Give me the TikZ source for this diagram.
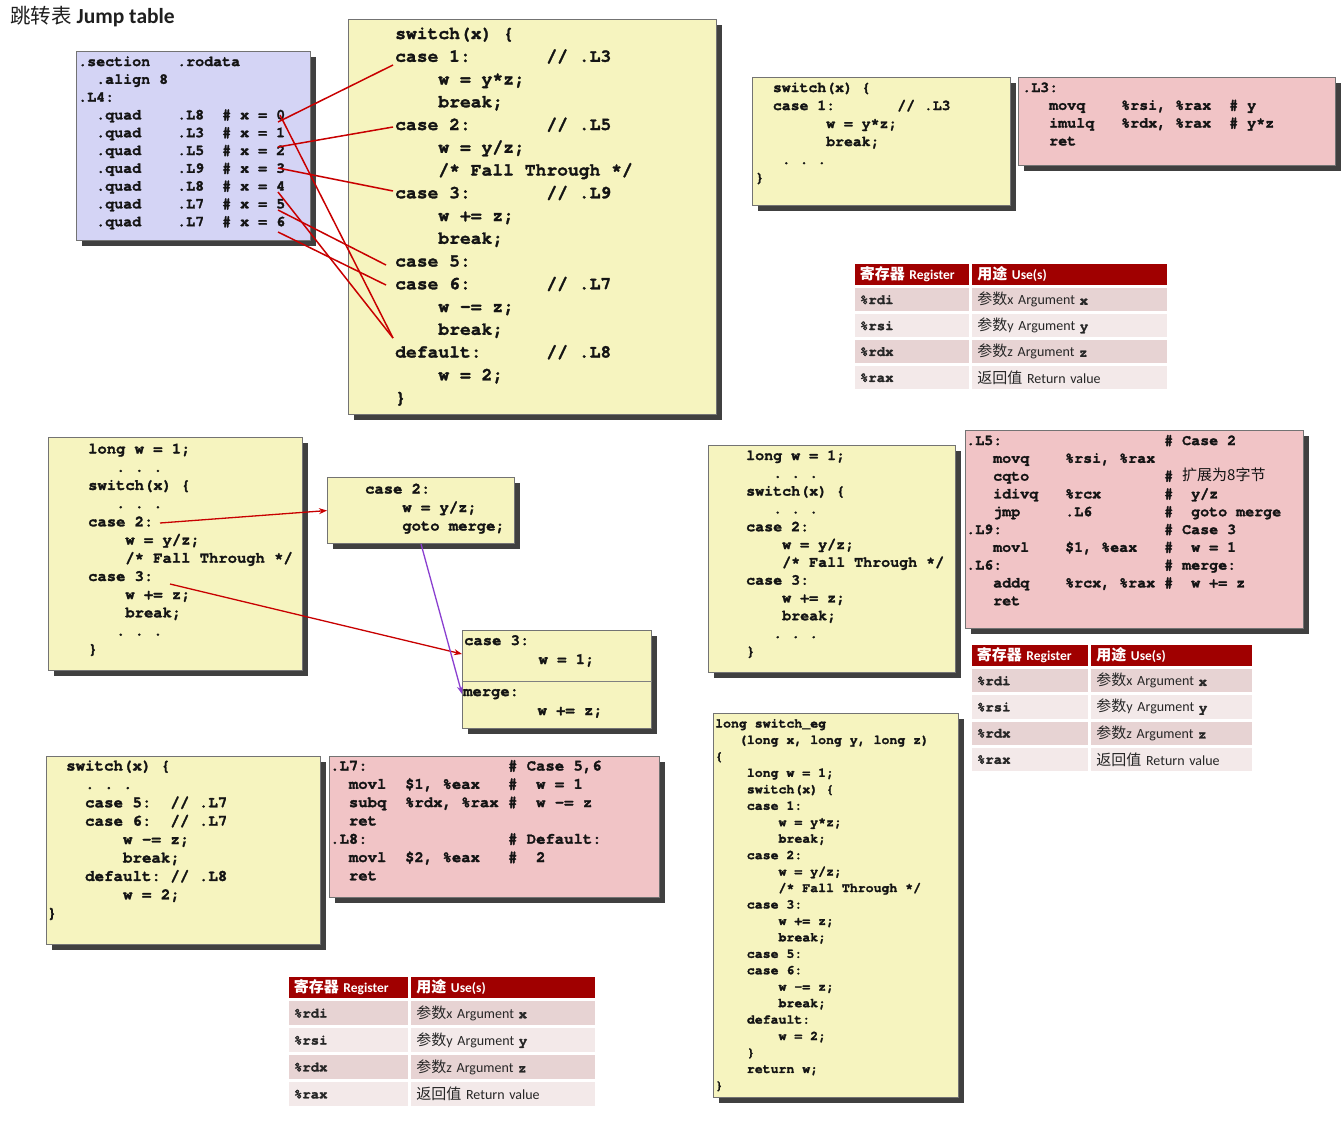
\documentclass[tikz,border=0pt]{standalone}
\usepackage{fontspec}
\setmainfont{Carlito}
\setmonofont{texgyrecursor-regular.otf}[BoldFont=texgyrecursor-bold.otf, BoldFeatures={FakeBold=1.6}]
\newfontfamily\cjk{Noto Sans CJK SC}
\usetikzlibrary{shadows,matrix,arrows.meta}
\definecolor{boxyellow}{HTML}{F6F4BF}
\definecolor{boxpink}{HTML}{F1C4C6}
\definecolor{boxlav}{HTML}{D4D4F5}
\definecolor{hdrred}{HTML}{A00000}
\definecolor{rowa}{HTML}{E7D3D3}
\definecolor{rowb}{HTML}{F3E9E9}
\definecolor{jumpred}{HTML}{C80000}
\definecolor{gotopurple}{HTML}{8A3FD0}
% code listing: one tabular, baseline on its first line
\newcommand\lines[1]{\begin{tabular}[t]{@{}l@{}}#1\end{tabular}}
\newcommand\zh[1]{{\cjk\mdseries\fontsize{15}{16}\selectfont #1}}
\newcommand\zhb[1]{{\cjk\bfseries\fontsize{15}{16}\selectfont #1}}
\newcommand\tti[1]{{\ttfamily\bfseries #1}}
\begin{document}
\begin{tikzpicture}[x=1pt,y=-1pt,
  panel/.style={draw=black!55, line width=1.1pt, inner sep=0pt, anchor=north west,
    drop shadow={shadow xshift=5pt, shadow yshift=-5pt, fill=black, opacity=0.75}},
  cpanel/.style={panel, fill=boxyellow},
  apanel/.style={panel, fill=boxpink},
  tpanel/.style={panel, fill=boxlav},
  code/.style 2 args={inner sep=0pt, anchor=base west, text=black!92,
    font=\ttfamily\bfseries\fontsize{#1}{#2}\selectfont},
  tcell/.style={draw=white, line width=1.5pt, inner xsep=6pt, inner ysep=0pt,
    align=left, anchor=center, text=black!85, font=\fontsize{14}{16}\selectfont},
  thead/.style={fill=hdrred, text=white, font=\bfseries\fontsize{13.5}{16}\selectfont},
  regtab/.style 2 args={matrix of nodes, anchor=north west, inner sep=0pt,
    row sep=0pt, column sep=0pt, nodes={tcell, minimum height=#2},
    row 1/.style={nodes={thead, minimum height=#1}},
    row 2/.style={nodes={fill=rowa}}, row 3/.style={nodes={fill=rowb}},
    row 4/.style={nodes={fill=rowa}}, row 5/.style={nodes={fill=rowb}}},
  jump/.style={draw=jumpred, line width=1.5pt},
  goto/.style={draw=jumpred, line width=1.3pt, -{Stealth[length=8pt,width=6pt]}},
  merge/.style={draw=gotopurple, line width=1.3pt, -{Stealth[length=8pt,width=6pt]}}
]
\useasboundingbox (0,0) rectangle (1344,1122);
\fill[white] (0,0) rectangle (1344,1122);

% heading
\node[anchor=west, inner sep=0pt, text=black!88] (title) at (10,17)
  {{\cjk\fontsize{20.5}{24}\selectfont 跳转表}\hspace{5pt}{\bfseries\fontsize{21.5}{24}\selectfont Jump table}};

% ---------- panels ----------
\node[tpanel, minimum width=234pt, minimum height=189pt] (jt) at (76,51) {};
\node[cpanel, minimum width=368pt, minimum height=395pt] (sw) at (348,19) {};
\node[cpanel, minimum width=258pt, minimum height=128pt] (c1c) at (752,77) {};
\node[apanel, minimum width=317pt, minimum height=88pt] (c1a) at (1018,77) {};
\node[cpanel, minimum width=254pt, minimum height=233pt] (ftc) at (48,437) {};
\node[cpanel, minimum width=187pt, minimum height=66pt] (g2) at (327,477) {};
\node[cpanel, minimum width=189pt, minimum height=98pt] (g3) at (462,630) {};
\node[cpanel, minimum width=247pt, minimum height=227pt] (ftc2) at (708,445) {};
\node[apanel, minimum width=338pt, minimum height=198pt] (fta) at (965,430) {};
\node[cpanel, minimum width=274pt, minimum height=188pt] (dc) at (46,756) {};
\node[apanel, minimum width=330pt, minimum height=141pt] (da) at (329,756) {};
\node[cpanel, minimum width=245pt, minimum height=384pt] (full) at (713,713) {};

\draw[black!50, line width=0.8pt] ([shift={(0,51)}]g3.north west) -- ([shift={(0,51)}]g3.north east);

% ---------- listings ----------
\node[code={15}{17.8}] (jttext) at ([shift={(2,15)}]jt.north west) {\lines{%
.section~~~.rodata\\
~~.align 8\\
.L4:\\
~~.quad~~~~.L8~~\# x = 0\\
~~.quad~~~~.L3~~\# x = 1\\
~~.quad~~~~.L5~~\# x = 2\\
~~.quad~~~~.L9~~\# x = 3\\
~~.quad~~~~.L8~~\# x = 4\\
~~.quad~~~~.L7~~\# x = 5\\
~~.quad~~~~.L7~~\# x = 6}};

\node[code={18}{22.75}] (swtext) at ([shift={(47,20)}]sw.north west) {\lines{%
switch(x) \{\\
case 1:~~~~~~~// .L3\\
~~~~w = y*z;\\
~~~~break;\\
case 2:~~~~~~~// .L5\\
~~~~w = y/z;\\
~~~~/* Fall Through */\\
case 3:~~~~~~~// .L9\\
~~~~w += z;\\
~~~~break;\\
case 5:\\
case 6:~~~~~~~// .L7\\
~~~~w -= z;\\
~~~~break;\\
default:~~~~~~// .L8\\
~~~~w = 2;\\
\}}};

\node[code={14.8}{18}] (c1ctext) at ([shift={(3,15)}]c1c.north west) {\lines{%
~~switch(x) \{\\
~~case 1:~~~~~~~// .L3\\
~~~~~~~~w = y*z;\\
~~~~~~~~break;\\
~~~. . .\\
\}}};

\node[code={15}{17.8}] (c1atext) at ([shift={(4,15)}]c1a.north west) {\lines{%
.L3:\\
~~~movq~~~~\%rsi, \%rax~~\# y\\
~~~imulq~~~\%rdx, \%rax~~\# y*z\\
~~~ret}};

\node[code={15.5}{18.2}] (ftctext) at ([shift={(40,16.5)}]ftc.north west) {\lines{%
long w = 1;\\
~~~. . .\\
switch(x) \{\\
~~~. . .\\
case 2:\\
~~~~w = y/z;\\
~~~~/* Fall Through */\\
case 3:\\
~~~~w += z;\\
~~~~break;\\
~~~. . .\\
\}}};

\node[code={15.5}{18.5}] (g2text) at ([shift={(38,16.5)}]g2.north west) {\lines{%
case 2:\\
~~~~w = y/z;\\
~~~~goto merge;}};

\node[code={15.5}{19}] (g3top) at ([shift={(2,15)}]g3.north west) {\lines{%
case 3:\\
~~~~~~~~w = 1;}};
\node[code={15.5}{19}] (g3bot) at ([shift={(1,66)}]g3.north west) {\lines{%
merge:\\
~~~~~~~~w += z;}};

\node[code={15}{17.8}] (ftc2text) at ([shift={(38,15)}]ftc2.north west) {\lines{%
long w = 1;\\
~~~. . .\\
switch(x) \{\\
~~~. . .\\
case 2:\\
~~~~w = y/z;\\
~~~~/* Fall Through */\\
case 3:\\
~~~~w += z;\\
~~~~break;\\
~~~. . .\\
\}}};

\node[code={15}{17.8}] (ftatext) at ([shift={(1,15)}]fta.north west) {\lines{%
.L5:~~~~~~~~~~~~~~~~~~\# Case 2\\
~~~movq~~~~\%rsi, \%rax\\
~~~cqto~~~~~~~~~~~~~~~\# \smash{\zh{扩展为8字节}}\\
~~~idivq~~~\%rcx~~~~~~~\#~~y/z\\
~~~jmp~~~~~.L6~~~~~~~~\#~~goto merge\\
.L9:~~~~~~~~~~~~~~~~~~\# Case 3\\
~~~movl~~~~\$1, \%eax~~~\#~~w = 1\\
.L6:~~~~~~~~~~~~~~~~~~\# merge:\\
~~~addq~~~~\%rcx, \%rax \#~~w += z\\
~~~ret}};

\node[code={15.8}{18.4}] (dctext) at ([shift={(1,14.5)}]dc.north west) {\lines{%
~~switch(x) \{\\
~~~~. . .\\
~~~~case 5:~~// .L7\\
~~~~case 6:~~// .L7\\
~~~~~~~~w -= z;\\
~~~~~~~~break;\\
~~~~default: // .L8\\
~~~~~~~~w = 2;\\
\}}};

\node[code={15.6}{18.3}] (datext) at ([shift={(1,14.5)}]da.north west) {\lines{%
.L7:~~~~~~~~~~~~~~~\# Case 5,6\\
~~movl~~\$1, \%eax~~~\#~~w = 1\\
~~subq~~\%rdx, \%rax \#~~w -= z\\
~~ret\\
.L8:~~~~~~~~~~~~~~~\# Default:\\
~~movl~~\$2, \%eax~~~\#~~2\\
~~ret}};

\node[code={13.2}{16.45}] (fulltext) at ([shift={(2,14.5)}]full.north west) {\lines{%
long switch\_eg\\
~~~(long x, long y, long z)\\
\{\\
~~~~long w = 1;\\
~~~~switch(x) \{\\
~~~~case 1:\\
~~~~~~~~w = y*z;\\
~~~~~~~~break;\\
~~~~case 2:\\
~~~~~~~~w = y/z;\\
~~~~~~~~/* Fall Through */\\
~~~~case 3:\\
~~~~~~~~w += z;\\
~~~~~~~~break;\\
~~~~case 5:\\
~~~~case 6:\\
~~~~~~~~w -= z;\\
~~~~~~~~break;\\
~~~~default:\\
~~~~~~~~w = 2;\\
~~~~\}\\
~~~~return w;\\
\}}};

% ---------- register tables ----------
\matrix (regA) [regtab={23pt}{24.5pt}, column 1/.style={nodes={text width=104pt}},
  column 2/.style={nodes={text width=184pt}}] at (853,262) {
\zhb{寄存器} Register & \zhb{用途} Use(s) \\
\tti{\%rdi} & \zh{参数}x Argument \tti{x} \\
\tti{\%rsi} & \zh{参数}y Argument \tti{y} \\
\tti{\%rdx} & \zh{参数}z Argument \tti{z} \\
\tti{\%rax} & \zh{返回值} Return value \\
};
\matrix (regB) [regtab={23pt}{24.75pt}, column 1/.style={nodes={text width=106pt}},
  column 2/.style={nodes={text width=150pt}}] at (970,643) {
\zhb{寄存器} Register & \zhb{用途} Use(s) \\
\tti{\%rdi} & \zh{参数}x Argument \tti{x} \\
\tti{\%rsi} & \zh{参数}y Argument \tti{y} \\
\tti{\%rdx} & \zh{参数}z Argument \tti{z} \\
\tti{\%rax} & \zh{返回值} Return value \\
};
\matrix (regC) [regtab={23pt}{25.5pt}, column 1/.style={nodes={text width=109pt}},
  column 2/.style={nodes={text width=173pt}}] at (287,975) {
\zhb{寄存器} Register & \zhb{用途} Use(s) \\
\tti{\%rdi} & \zh{参数}x Argument \tti{x} \\
\tti{\%rsi} & \zh{参数}y Argument \tti{y} \\
\tti{\%rdx} & \zh{参数}z Argument \tti{z} \\
\tti{\%rax} & \zh{返回值} Return value \\
};

% ---------- jump-table targets ----------
\coordinate (e0) at (280,115);
\coordinate (e1) at (278,122);
\coordinate (e2) at (278,147);
\coordinate (e3) at (278,168);
\coordinate (e4) at (278,192);
\coordinate (e5) at (278,210);
\coordinate (e6) at (278,232);
\coordinate (k1) at (393,65);
\coordinate (k2) at (393,127);
\coordinate (k3) at (393,191);
\coordinate (k5) at (386,265);
\coordinate (k6) at (386,285);
\coordinate (kd) at (393,338);
\draw[jump] (e0) -- (kd);
\draw[jump] (e1) -- (k1);
\draw[jump] (e2) -- (k2);
\draw[jump] (e3) -- (k3);
\draw[jump] (e4) -- (kd);
\draw[jump] (e5) -- (k5);
\draw[jump] (e6) -- (k6);

% ---------- fall-through rewrite ----------
\coordinate (s2) at (160,523);
\coordinate (s3) at (170,584);
\coordinate (f3) at (462,654);
\coordinate (fm) at (462,694);
\draw[goto] (s2) -- (g2.west);
\draw[goto] (s3) -- (f3);
\draw[merge] (g2.south) -- (fm);
\end{tikzpicture}
\end{document}
